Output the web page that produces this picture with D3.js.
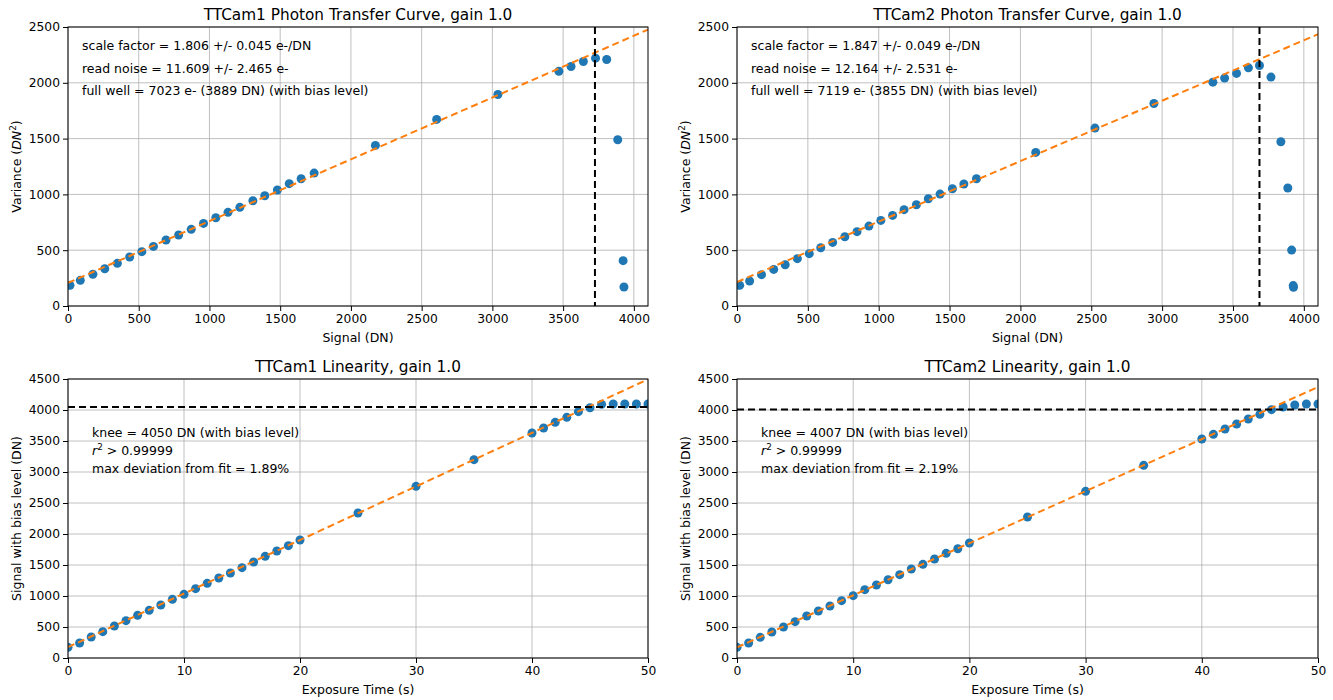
<!DOCTYPE html>
<html><head><meta charset="utf-8">
<script src="https://cdn.jsdelivr.net/npm/d3@7"></script>
<style>
body{margin:0;background:#fff;}
text{font-family:"DejaVu Sans",sans-serif;fill:#000;}
</style></head><body>
<svg id="c" width="1333" height="700"></svg>
<script>
// ---- data ----
const ptc1Signal = [14,87,176,260,349,436,522,604,693,782,871,958,1045,1131,1215,1307,1391,1480,1564,1648,1740,2173,2606,3039,3470,3556,3643,3729,3808,3886,3924,3930];
const ptc1Variance = [185,230,284,334,382,439,487,534,591,636,687,740,791,839,884,943,988,1039,1096,1140,1191,1439,1672,1895,2104,2146,2191,2221,2209,1490,406,170];
const ptc1Fit = [[0,207],[4100,2477]];
const ptc1FullWell = 3725;
const ptc1Notes = ["scale factor = 1.806 +/- 0.045 e-/DN","read noise = 11.609 +/- 2.465 e-","full well = 7023 e- (3889 DN) (with bias level)"];

const ptc2Signal = [19,89,173,259,340,426,510,591,675,761,847,931,1015,1098,1179,1266,1350,1433,1520,1601,1690,2108,2526,2942,3358,3441,3525,3609,3687,3768,3838,3887,3914,3925,3927];
const ptc2Variance = [185,224,281,328,370,424,469,522,570,621,666,716,767,812,863,907,961,1003,1051,1093,1140,1376,1594,1815,2006,2042,2084,2134,2155,2051,1472,1057,501,183,168];
const ptc2Fit = [[0,215],[4100,2435]];
const ptc2FullWell = 3687;
const ptc2Notes = ["scale factor = 1.847 +/- 0.049 e-/DN","read noise = 12.164 +/- 2.531 e-","full well = 7119 e- (3855 DN) (with bias level)"];

const linTime = [0,1,2,3,4,5,6,7,8,9,10,11,12,13,14,15,16,17,18,19,20,25,30,35,40,41,42,43,44,45,46,47,48,49,50];
const lin1Signal = [172,242,339,425,516,602,688,769,855,946,1027,1118,1204,1290,1371,1457,1548,1640,1726,1812,1903,2339,2769,3199,3629,3709,3801,3882,3973,4037,4091,4097,4097,4097,4097];
const lin1Fit = [[0,175],[50,4495]];
const lin1Knee = 4050;
const lin1Notes = ["knee = 4050 DN (with bias level)","r2 > 0.99999","max deviation from fit = 1.89%"];

const lin2Signal = [172,242,333,419,500,586,677,758,839,925,1005,1102,1177,1263,1344,1435,1511,1597,1688,1763,1855,2274,2688,3107,3532,3607,3693,3774,3855,3930,4005,4048,4080,4097,4097];
const lin2Fit = [[0,172],[50,4370]];
const lin2Knee = 4007;
const lin2Notes = ["knee = 4007 DN (with bias level)","r2 > 0.99999","max deviation from fit = 2.19%"];

const ptcXTicks = [0,500,1000,1500,2000,2500,3000,3500,4000];
const ptcYTicks = [0,500,1000,1500,2000,2500];
const linXTicks = [0,10,20,30,40,50];
const linYTicks = [0,500,1000,1500,2000,2500,3000,3500,4000,4500];

const svg = d3.select("#c");
const blue = "#1f77b4", orange = "#ff7f0e";

function panel(o){
  const g = svg.append("g");
  const x = d3.scaleLinear().domain(o.xDomain).range([o.x0,o.x1]);
  const y = d3.scaleLinear().domain(o.yDomain).range([o.y1,o.y0]);
  // grid
  g.append("g").selectAll("line").data(o.xTicks).join("line")
    .attr("x1",d=>x(d)).attr("x2",d=>x(d)).attr("y1",o.y0).attr("y2",o.y1)
    .attr("stroke","#b0b0b0").attr("stroke-width",0.8);
  g.append("g").selectAll("line").data(o.yTicks).join("line")
    .attr("y1",d=>y(d)).attr("y2",d=>y(d)).attr("x1",o.x0).attr("x2",o.x1)
    .attr("stroke","#b0b0b0").attr("stroke-width",0.8);
  const clip = "clip"+o.id;
  g.append("clipPath").attr("id",clip).append("rect")
    .attr("x",o.x0).attr("y",o.y0).attr("width",o.x1-o.x0).attr("height",o.y1-o.y0);
  const inner = g.append("g").attr("clip-path",`url(#${clip})`);
  // reference line
  if(o.vline!==undefined){
    g.append("line").attr("x1",x(o.vline)).attr("x2",x(o.vline)).attr("y1",o.y0).attr("y2",o.y1)
      .attr("stroke","#000").attr("stroke-width",2).attr("stroke-dasharray","7,4");
  }
  if(o.hline!==undefined){
    g.append("line").attr("y1",y(o.hline)).attr("y2",y(o.hline)).attr("x1",o.x0).attr("x2",o.x1)
      .attr("stroke","#000").attr("stroke-width",2).attr("stroke-dasharray","7,4");
  }
  // points
  const pts = o.xs.map((v,i)=>[v,o.ys[i]]);
  inner.append("g").selectAll("circle").data(pts).join("circle")
    .attr("cx",d=>x(d[0])).attr("cy",d=>y(d[1])).attr("r",4.5).attr("fill",blue);
  // fit
  inner.append("path").datum(o.fit)
    .attr("d",d3.line().x(d=>x(d[0])).y(d=>y(d[1])))
    .attr("fill","none").attr("stroke",orange).attr("stroke-width",2).attr("stroke-dasharray","7,4");
  // axes
  const xa = g.append("g").attr("transform",`translate(0,${o.y1})`)
    .call(d3.axisBottom(x).tickValues(o.xTicks).tickSize(5).tickPadding(3).tickFormat(d3.format("d")));
  const ya = g.append("g").attr("transform",`translate(${o.x0},0)`)
    .call(d3.axisLeft(y).tickValues(o.yTicks).tickSize(5).tickPadding(3).tickFormat(d3.format("d")));
  [xa,ya].forEach(a=>{a.select(".domain").remove();a.selectAll("text").attr("font-size",12.3).attr("font-family","DejaVu Sans").attr("fill","#000");a.selectAll("line").attr("stroke","#000");});
  // frame
  g.append("rect").attr("x",o.x0).attr("y",o.y0).attr("width",o.x1-o.x0).attr("height",o.y1-o.y0)
    .attr("fill","none").attr("stroke","#000").attr("stroke-width",1);
  // title & labels
  g.append("text").attr("x",(o.x0+o.x1)/2).attr("y",o.y0-7).attr("text-anchor","middle")
    .attr("font-size",15.3).text(o.title);
  g.append("text").attr("x",(o.x0+o.x1)/2).attr("y",o.y1+36).attr("text-anchor","middle")
    .attr("font-size",12.5).text(o.xLabel);
  const yl = g.append("text").attr("transform",`translate(${o.x0-47},${(o.y0+o.y1)/2}) rotate(-90)`)
    .attr("text-anchor","middle").attr("font-size",12.5);
  o.yLabel(yl);
  // notes
  o.notes.forEach((t,i)=>{
    const tx = g.append("text").attr("x",o.noteX).attr("y",o.noteY+i*o.noteDy).attr("font-size",12.5);
    if(t.startsWith("r2")){
      tx.append("tspan").attr("font-style","italic").text("r");
      tx.append("tspan").attr("dy",-5).attr("font-size",8.8).text("2");
      tx.append("tspan").attr("dy",5).text(t.slice(2));
    } else tx.text(t);
  });
}

function varLabel(t){
  t.append("tspan").text("Variance (");
  t.append("tspan").attr("font-style","italic").text("DN");
  t.append("tspan").attr("dy",-5).attr("font-size",8.8).text("2");
  t.append("tspan").attr("dy",5).text(")");
}
function sigLabel(t){ t.text("Signal with bias level (DN)"); }

panel({id:1,x0:68,x1:648,y0:27,y1:306,xDomain:[0,4100],yDomain:[0,2500],xTicks:ptcXTicks,yTicks:ptcYTicks,
  xs:ptc1Signal,ys:ptc1Variance,fit:ptc1Fit,vline:ptc1FullWell,title:"TTCam1 Photon Transfer Curve, gain 1.0",
  xLabel:"Signal (DN)",yLabel:varLabel,notes:ptc1Notes,noteX:82,noteY:50,noteDy:22.5});
panel({id:2,x0:737,x1:1318,y0:27,y1:306,xDomain:[0,4100],yDomain:[0,2500],xTicks:ptcXTicks,yTicks:ptcYTicks,
  xs:ptc2Signal,ys:ptc2Variance,fit:ptc2Fit,vline:ptc2FullWell,title:"TTCam2 Photon Transfer Curve, gain 1.0",
  xLabel:"Signal (DN)",yLabel:varLabel,notes:ptc2Notes,noteX:751,noteY:50,noteDy:22.5});
panel({id:3,x0:68,x1:648,y0:379,y1:658,xDomain:[0,50],yDomain:[0,4500],xTicks:linXTicks,yTicks:linYTicks,
  xs:linTime,ys:lin1Signal,fit:lin1Fit,hline:lin1Knee,title:"TTCam1 Linearity, gain 1.0",
  xLabel:"Exposure Time (s)",yLabel:sigLabel,notes:lin1Notes,noteX:92,noteY:437,noteDy:18});
panel({id:4,x0:737,x1:1318,y0:379,y1:658,xDomain:[0,50],yDomain:[0,4500],xTicks:linXTicks,yTicks:linYTicks,
  xs:linTime,ys:lin2Signal,fit:lin2Fit,hline:lin2Knee,title:"TTCam2 Linearity, gain 1.0",
  xLabel:"Exposure Time (s)",yLabel:sigLabel,notes:lin2Notes,noteX:761,noteY:437,noteDy:18});
</script></body></html>
